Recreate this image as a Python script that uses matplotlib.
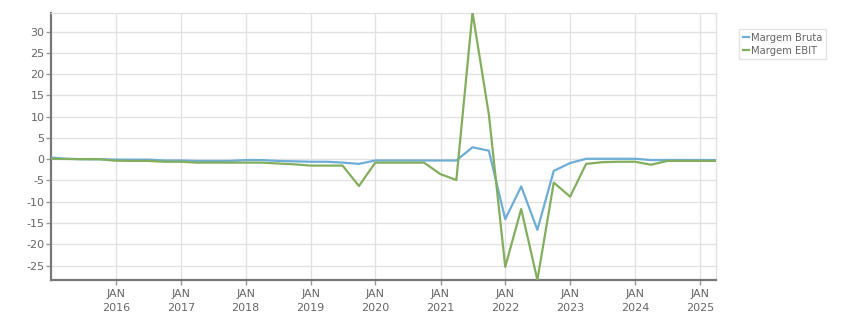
import matplotlib
matplotlib.use("Agg")
import matplotlib.pyplot as plt
import matplotlib.dates as mdates
import pandas as pd

dates = ["2014-12-31", "2015-03-31", "2015-06-30", "2015-09-30",
         "2015-12-31", "2016-03-31", "2016-06-30", "2016-09-30",
         "2016-12-31", "2017-03-31", "2017-06-30", "2017-09-30",
         "2017-12-31", "2018-03-31", "2018-06-30", "2018-09-30",
         "2018-12-31", "2019-03-31", "2019-06-30", "2019-09-30",
         "2019-12-31", "2020-03-31", "2020-06-30", "2020-09-30",
         "2020-12-31", "2021-03-31", "2021-06-30", "2021-09-30",
         "2021-12-31", "2022-03-31", "2022-06-30", "2022-09-30",
         "2022-12-31", "2023-03-31", "2023-06-30", "2023-09-30",
         "2023-12-31", "2024-03-31", "2024-06-30", "2024-09-30",
         "2024-12-31", "2025-03-31"]

margem_bruta = [0.4, 0.1, 0.0, 0.0,
                -0.1, -0.1, -0.1, -0.3,
                -0.3, -0.4, -0.4, -0.4,
                -0.2, -0.2, -0.4, -0.5,
                -0.6, -0.6, -0.8, -1.1,
                -0.3, -0.3, -0.3, -0.3,
                -0.3, -0.3, 2.8, 2.0,
                -14.1, -6.4, -16.6, -2.75,
                -0.9, 0.1, 0.1, 0.1,
                0.1, -0.2, -0.2, -0.2,
                -0.2, -0.2]

margem_ebit = [0.1, 0.05, 0.0, 0.0,
               -0.35, -0.4, -0.4, -0.6,
               -0.6, -0.8, -0.8, -0.8,
               -0.8, -0.8, -1.0, -1.2,
               -1.5, -1.5, -1.5, -6.3,
               -0.8, -0.8, -0.8, -0.8,
               -3.5, -4.9, 34.5, 10.5,
               -25.3, -11.7, -28.4, -5.5,
               -8.8, -1.1, -0.7, -0.6,
               -0.6, -1.3, -0.4, -0.4,
               -0.4, -0.4]

series_names = ["Margem Bruta", "Margem EBIT"]
y_ticks = [-25, -20, -15, -10, -5, 0, 5, 10, 15, 20, 25, 30]
x_tick_years = list(range(2016, 2026))

x = pd.to_datetime(dates)

fig = plt.figure(figsize=(8.51, 3.13), dpi=100)
ax = fig.add_axes([0.0596, 0.1054, 0.7818, 0.8521])

ax.plot(x, margem_bruta, color="#6dadd6", lw=1.6, label=series_names[0], zorder=3)
ax.plot(x, margem_ebit, color="#82ae5e", lw=1.6, label=series_names[1], zorder=3)

ax.set_xlim(x[0], x[-1])
ax.set_ylim(-28.4, 34.3)

ax.set_yticks(y_ticks)
ax.set_yticklabels([str(v) for v in y_ticks])
xt = pd.to_datetime([f"{y}-01-01" for y in x_tick_years])
ax.set_xticks(xt)
ax.set_xticklabels([f"JAN\n{y}" for y in x_tick_years])

ax.grid(True, color="#e2e2e2", lw=1.0, zorder=0)
ax.set_axisbelow(True)
for s in ["left", "bottom"]:
    ax.spines[s].set_color("#777777")
    ax.spines[s].set_linewidth(1.6)
for s in ["top", "right"]:
    ax.spines[s].set_color("#e2e2e2")
    ax.spines[s].set_linewidth(1.0)

ax.tick_params(axis="both", colors="#999999", labelcolor="#666666",
               labelsize=8, length=3.5, width=1.0)
ax.tick_params(axis="y", pad=1)
ax.tick_params(axis="x", pad=3)
for lbl in ax.get_xticklabels():
    lbl.set_linespacing(1.5)

leg = ax.legend(loc="upper left", bbox_to_anchor=(1.035, 0.94), frameon=True,
                fontsize=7.2, handlelength=0.6, handletextpad=0.2,
                borderpad=0.35, labelspacing=0.3, fancybox=False,
                borderaxespad=0)
leg.get_frame().set_edgecolor("#dddddd")
leg.get_frame().set_linewidth(1.0)
for t in leg.get_texts():
    t.set_color("#666666")

fig.savefig("out.png", dpi=100)
